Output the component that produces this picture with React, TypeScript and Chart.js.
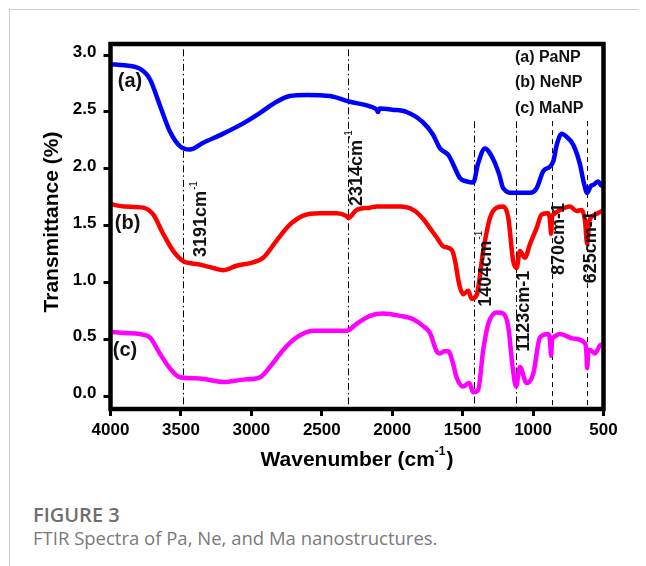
import { useEffect, useRef } from "react";
import { Chart, registerables } from "chart.js";

Chart.register(...registerables);

// ---- Axis ticks ----
const xTickValues = [4000, 3500, 3000, 2500, 2000, 1500, 1000, 500];
const yTickValues = [0, 0.5, 1, 1.5, 2, 2.5, 3];

// ---- (a) PaNP ----
const paWavenumber = [4000, 3900, 3792, 3721, 3650, 3579, 3508, 3437, 3342, 3200, 3058, 2940, 2821, 2727, 2608, 2442, 2300, 2158, 2110, 2101, 2090, 2000, 1898, 1782, 1710, 1661, 1630, 1600, 1567, 1519, 1472, 1425, 1390, 1342, 1285, 1240, 1212, 1141, 1022, 975, 928, 880, 856, 830, 797, 760, 714, 667, 640, 616, 590, 572, 537, 513, 500];
const paTransmittance = [2.92, 2.91, 2.88, 2.79, 2.56, 2.33, 2.2, 2.17, 2.23, 2.31, 2.4, 2.49, 2.59, 2.64, 2.65, 2.64, 2.59, 2.55, 2.52, 2.5, 2.53, 2.52, 2.5, 2.41, 2.3, 2.18, 2.15, 2.12, 2.04, 1.92, 1.89, 1.88, 2.05, 2.18, 2.09, 1.95, 1.83, 1.79, 1.79, 1.83, 1.98, 2.02, 2.07, 2.22, 2.31, 2.28, 2.21, 2.04, 1.88, 1.79, 1.85, 1.86, 1.89, 1.85, 1.87];

// ---- (b) NeNP ----
const neWavenumber = [4000, 3900, 3768, 3697, 3626, 3555, 3484, 3420, 3366, 3271, 3200, 3105, 2987, 2916, 2821, 2727, 2632, 2513, 2395, 2330, 2312, 2253, 2158, 2111, 1945, 1851, 1780, 1732, 1685, 1638, 1578, 1555, 1530, 1519, 1496, 1460, 1436, 1401, 1354, 1306, 1259, 1212, 1176, 1141, 1117, 1093, 1058, 1022, 975, 939, 892, 880, 872, 865, 856, 809, 738, 691, 655, 631, 616, 601, 572, 513, 500];
const neTransmittance = [1.69, 1.67, 1.66, 1.6, 1.43, 1.28, 1.19, 1.17, 1.16, 1.13, 1.11, 1.15, 1.18, 1.22, 1.37, 1.51, 1.59, 1.61, 1.61, 1.59, 1.57, 1.64, 1.66, 1.67, 1.67, 1.64, 1.56, 1.48, 1.4, 1.32, 1.29, 1.2, 1.02, 0.96, 0.9, 0.93, 0.86, 0.89, 1.28, 1.57, 1.66, 1.67, 1.57, 1.19, 1.13, 1.28, 1.22, 1.34, 1.48, 1.6, 1.61, 1.55, 1.43, 1.58, 1.6, 1.64, 1.67, 1.63, 1.64, 1.54, 1.34, 1.54, 1.59, 1.63, 1.64];

// ---- (c) MaNP ----
const maWavenumber = [4000, 3900, 3792, 3721, 3650, 3579, 3508, 3366, 3200, 3058, 2940, 2869, 2774, 2679, 2561, 2395, 2324, 2253, 2158, 2064, 1945, 1851, 1780, 1732, 1685, 1661, 1630, 1602, 1570, 1543, 1496, 1453, 1425, 1390, 1354, 1318, 1259, 1212, 1176, 1145, 1121, 1093, 1046, 999, 951, 892, 880, 872, 865, 856, 809, 714, 631, 622, 616, 608, 596, 561, 525, 500];
const maTransmittance = [0.57, 0.56, 0.55, 0.52, 0.38, 0.25, 0.17, 0.16, 0.13, 0.15, 0.17, 0.26, 0.41, 0.52, 0.58, 0.58, 0.58, 0.64, 0.71, 0.73, 0.71, 0.68, 0.62, 0.56, 0.4, 0.38, 0.4, 0.4, 0.3, 0.17, 0.09, 0.12, 0.04, 0.06, 0.41, 0.64, 0.74, 0.73, 0.61, 0.26, 0.09, 0.26, 0.12, 0.2, 0.52, 0.55, 0.5, 0.36, 0.5, 0.52, 0.55, 0.51, 0.47, 0.4, 0.25, 0.4, 0.41, 0.38, 0.45, 0.46];

const seriesNames = ["PaNP", "NeNP", "MaNP"];
const seriesColors = ["#0000ff", "#ff0000", "#ff00ff"];

// ---- Reference lines (wavenumber, top transmittance, style) ----
const refLineWavenumbers = [3486, 2311, 1418, 1121, 869, 614];
const refLineTops = [3.05, 3.05, 2.42, 2.42, 2.42, 2.42];
const refLineStyles = ["dashdot", "dashdot", "dashdot", "dashdot", "dash", "dash"];

// ---- Peak labels ----
const peakLabelText = ["3191cm", "2314cm", "1404cm", "1123cm-1", "870cm-1", "625cm-1"];
const peakLabelSup = ["-1", "-1", "-1", "", "", ""];
const peakLabelWavenumber = [3354, 2253, 1335, 1065, 816, 585];
const peakLabelTransmittance = [1.226, 1.674, 0.79, 0.395, 1.068, 0.996];

// ---- Curve labels and legend ----
const curveLabelText = ["(a)", "(b)", "(c)"];
const curveLabelWavenumber = [3948, 3969, 3984];
const curveLabelTransmittance = [2.77, 1.525, 0.41];
const legendText = ["(a) PaNP", "(b) NeNP", "(c) MaNP"];
const legendWavenumber = 1129;
const legendTransmittance = [2.974, 2.754, 2.534];

const FONT = "'Liberation Sans', Arial, Helvetica, sans-serif";

const overlayPlugin = {
  id: "overlay",
  beforeDatasetsDraw(chart: any) {
    const { ctx, chartArea, scales } = chart;
    const x = scales.x;
    const y = scales.y;
    ctx.save();
    ctx.strokeStyle = "#000";
    ctx.lineWidth = 1;
    refLineWavenumbers.forEach((wn, i) => {
      const px = Math.round(x.getPixelForValue(wn)) + 0.5;
      ctx.setLineDash(refLineStyles[i] === "dash" ? [5, 4] : [7, 3, 1.5, 3]);
      ctx.beginPath();
      ctx.moveTo(px, y.getPixelForValue(refLineTops[i]));
      ctx.lineTo(px, chartArea.bottom);
      ctx.stroke();
    });
    ctx.restore();
  },
  afterDraw(chart: any) {
    const { ctx, chartArea, scales } = chart;
    const x = scales.x;
    const y = scales.y;
    ctx.save();
    // frame
    ctx.strokeStyle = "#000";
    ctx.lineWidth = 4.5;
    ctx.setLineDash([]);
    ctx.strokeRect(chartArea.left, chartArea.top, chartArea.right - chartArea.left, chartArea.bottom - chartArea.top);

    // peak labels (rotated)
    ctx.fillStyle = "#111";
    peakLabelText.forEach((t, i) => {
      const px = x.getPixelForValue(peakLabelWavenumber[i]);
      const py = y.getPixelForValue(peakLabelTransmittance[i]);
      ctx.save();
      ctx.translate(px, py);
      ctx.rotate(-Math.PI / 2);
      ctx.textAlign = "left";
      ctx.textBaseline = "middle";
      ctx.font = `bold 18px ${FONT}`;
      ctx.fillText(t, 0, 0);
      if (peakLabelSup[i]) {
        const w = ctx.measureText(t).width;
        ctx.font = `10px ${FONT}`;
        ctx.fillText(peakLabelSup[i], w + 1, -7);
      }
      ctx.restore();
    });

    // curve labels
    ctx.fillStyle = "#111";
    ctx.font = `bold 20px ${FONT}`;
    ctx.textAlign = "left";
    ctx.textBaseline = "middle";
    curveLabelText.forEach((t, i) => {
      ctx.fillText(t, x.getPixelForValue(curveLabelWavenumber[i]), y.getPixelForValue(curveLabelTransmittance[i]));
    });

    // legend texts
    ctx.font = `bold 16px ${FONT}`;
    legendText.forEach((t, i) => {
      ctx.fillText(t, x.getPixelForValue(legendWavenumber), y.getPixelForValue(legendTransmittance[i]));
    });

    // y title
    ctx.save();
    ctx.translate(44, 214);
    ctx.rotate(-Math.PI / 2);
    ctx.textAlign = "center";
    ctx.textBaseline = "middle";
    ctx.font = `bold 21px ${FONT}`;
    ctx.fillStyle = "#000";
    ctx.fillText("Transmittance (%)", 0, 0);
    ctx.restore();

    // x title with superscript
    const cx = (chartArea.left + chartArea.right) / 2;
    const ty = 452;
    ctx.fillStyle = "#000";
    ctx.textBaseline = "middle";
    ctx.textAlign = "left";
    ctx.font = `bold 21px ${FONT}`;
    const partA = "Wavenumber (cm";
    const partC = ")";
    const wA = ctx.measureText(partA).width;
    const wC = ctx.measureText(partC).width;
    ctx.font = `bold 12px ${FONT}`;
    const wB = ctx.measureText("-1").width;
    const start = cx - (wA + wB + wC + 1) / 2;
    ctx.font = `bold 21px ${FONT}`;
    ctx.fillText(partA, start, ty);
    ctx.font = `bold 12px ${FONT}`;
    ctx.fillText("-1", start + wA, ty - 8);
    ctx.font = `bold 21px ${FONT}`;
    ctx.fillText(partC, start + wA + wB + 1, ty);
    ctx.restore();
  },
};

export default function App() {
  const canvasRef = useRef<HTMLCanvasElement | null>(null);

  useEffect(() => {
    if (!canvasRef.current) return;
    const wns = [paWavenumber, neWavenumber, maWavenumber];
    const vals = [paTransmittance, neTransmittance, maTransmittance];
    const datasets = seriesNames.map((name, i) => ({
      label: name,
      data: wns[i].map((w, k) => ({ x: w, y: vals[i][k] })),
      borderColor: seriesColors[i],
      backgroundColor: seriesColors[i],
      borderWidth: 4.5,
      pointRadius: 0,
      fill: false,
      cubicInterpolationMode: "monotone" as const,
    }));
    const tickFont = { family: FONT, size: 17, weight: "bold" as const };
    const chart = new Chart(canvasRef.current, {
      type: "line",
      data: { datasets },
      options: {
        animation: false,
        responsive: false,
        maintainAspectRatio: false,
        layout: { padding: { left: 0, right: 42.5, top: 36, bottom: 0 } },
        plugins: { legend: { display: false }, tooltip: { enabled: false } },
        scales: {
          x: {
            type: "linear",
            reverse: true,
            min: 500,
            max: 4000,
            afterFit: (s: any) => {
              s.height = 79;
            },
            afterBuildTicks: (s: any) => {
              s.ticks = xTickValues.map((v) => ({ value: v }));
            },
            ticks: {
              font: tickFont,
              color: "#000",
              padding: 4,
              maxRotation: 0,
              autoSkip: false,
              callback: (v: any) => String(v),
            },
            grid: { drawOnChartArea: false, drawTicks: true, tickLength: 7, tickWidth: 3, tickColor: "#000", color: "#000" },
            border: { display: false },
          },
          y: {
            type: "linear",
            min: -0.108,
            max: 3.097,
            afterFit: (s: any) => {
              s.width = 102.5;
            },
            afterBuildTicks: (s: any) => {
              s.ticks = yTickValues.map((v) => ({ value: v }));
            },
            ticks: {
              font: tickFont,
              color: "#000",
              padding: 7,
              labelOffset: -3,
              callback: (v: any) => Number(v).toFixed(1),
            },
            grid: { drawOnChartArea: false, drawTicks: true, tickLength: 7, tickWidth: 3, tickColor: "#000", color: "#000" },
            border: { display: false },
          },
        },
      },
      plugins: [overlayPlugin],
    });
    return () => chart.destroy();
  }, []);

  return (
    <div style={{ position: "relative", width: 638, height: 558 }}>
      <div style={{ position: "absolute", left: 1, top: 1, width: 637, height: 1, background: "#cfcfcf" }} />
      <div style={{ position: "absolute", left: 1, top: 1, width: 1, height: 557, background: "#cfcfcf" }} />
      <canvas
        ref={canvasRef}
        width={638}
        height={480}
        style={{ position: "absolute", left: 0, top: 0, width: 638, height: 480, display: "block" }}
      />
      <div
        style={{
          position: "absolute",
          left: 25,
          top: 495,
          fontFamily: "'Open Sans', sans-serif",
          fontWeight: 600,
          fontSize: 20,
          lineHeight: "24px",
          color: "#6e6e6e",
          whiteSpace: "nowrap",
        }}
      >
        FIGURE 3
      </div>
      <div
        style={{
          position: "absolute",
          left: 25,
          top: 518,
          fontFamily: "'Open Sans', sans-serif",
          fontWeight: 400,
          fontSize: 18.5,
          lineHeight: "24px",
          color: "#7a7a7a",
          whiteSpace: "nowrap",
        }}
      >
        FTIR Spectra of Pa, Ne, and Ma nanostructures.
      </div>
    </div>
  );
}
